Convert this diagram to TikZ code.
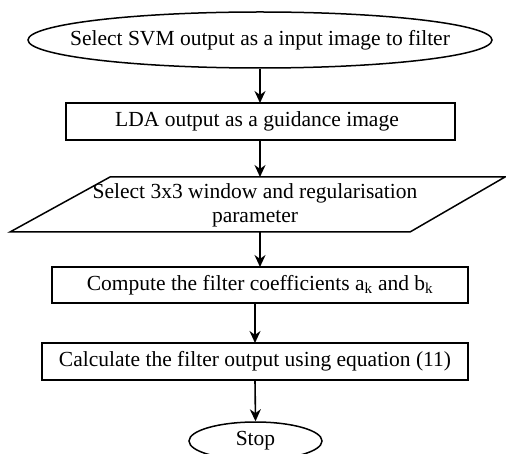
\documentclass[tikz,border=0pt]{standalone}
\usepackage{fontspec}
\setmainfont{Liberation Serif}
\usetikzlibrary{arrows.meta,shapes.geometric}
\begin{document}
\begin{tikzpicture}[x=1pt,y=-1pt,
  every node/.style={font=\fontsize{21.5}{24.5}\selectfont},
  boxline/.style={draw=black,line width=1.5pt},
  terminal/.style={boxline,ellipse,inner xsep=-60pt,inner ysep=0pt},
  flow/.style={draw=black,line width=1.6pt,-{Stealth[length=12pt,width=11pt]}}]
\useasboundingbox (0,0) rectangle (506,454);
% start terminal
\node[terminal,minimum width=464pt,minimum height=56pt] (start) at (260,40) {Select SVM output as a input image to filter};
% guidance image step
\draw[boxline] (66,103) rectangle (455,140);
\node[inner sep=0pt] (lda) at (257,121.5) {LDA output as a guidance image};
\coordinate (ldaT) at (260,103);
\coordinate (ldaB) at (260,140);
% parameter input
\draw[boxline] (110,177) -- (505,177) -- (410,232) -- (10,232) -- cycle;
\node[align=center,inner sep=0pt] (par) at (255,205.5) {Select 3x3 window and regularisation\\parameter};
\coordinate (parT) at (260,177);
\coordinate (parB) at (260,232);
% coefficient step
\draw[boxline] (52,267) rectangle (468,303);
\node[inner sep=0pt] (coef) at (260,285) {Compute the filter coefficients a\textsubscript{k} and b\textsubscript{k}};
\coordinate (coefT) at (260,267);
\coordinate (coefB) at (255,303);
% output step
\draw[boxline] (42,343) rectangle (468,380);
\node[inner sep=0pt] (calc) at (255,361.5) {Calculate the filter output using equation (11)};
\coordinate (calcT) at (255,343);
\coordinate (calcB) at (255,380);
% stop terminal
\node[terminal,inner xsep=0pt,minimum width=133pt,minimum height=38pt] (stop) at (255.5,441) {Stop};
% connectors
\draw[flow] (start.south) -- (ldaT);
\draw[flow] (ldaB) -- (parT);
\draw[flow] (parB) -- (coefT);
\draw[flow] (coefB) -- (calcT);
\draw[flow] (calcB) -- (stop.north);
\end{tikzpicture}
\end{document}
